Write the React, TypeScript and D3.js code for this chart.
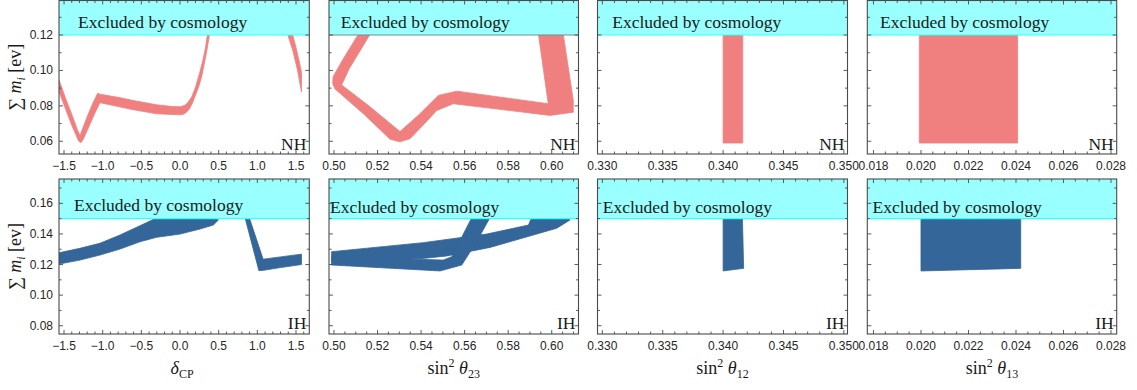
import React from 'react';
import * as d3 from 'd3';

type Pt = [number, number];

// ---------- axes / ticks ----------
const xDomains: [number, number][] = [[-1.565, 1.672], [0.4977, 0.6123], [0.3296, 0.3503], [0.01774, 0.02824]];
const xMajorTicks: number[][] = [
  [-1.5, -1.0, -0.5, 0.0, 0.5, 1.0, 1.5],
  [0.50, 0.52, 0.54, 0.56, 0.58, 0.60],
  [0.330, 0.335, 0.340, 0.345, 0.350],
  [0.018, 0.020, 0.022, 0.024, 0.026, 0.028],
];
const xMinorSteps = [0.1, 0.005, 0.001, 0.0005];
const xTickDecimals = [1, 2, 3, 3];

const nhYDomain: [number, number] = [0.0528, 0.1395];
const ihYDomain: [number, number] = [0.0746, 0.1759];
const nhYTicks = [0.06, 0.08, 0.10, 0.12];
const ihYTicks = [0.08, 0.10, 0.12, 0.14, 0.16];
const yMinorStep = 0.01;
const nhCosmoBound = 0.12;
const ihCosmoBound = 0.15;

// ---------- data regions (polygon outlines) ----------
// NH, delta_CP
const nhDeltaLeft: Pt[] = [
  [-1.565, 0.0947], [-1.48, 0.0843], [-1.40, 0.0752], [-1.33, 0.0668], [-1.294, 0.0632],
  [-1.20, 0.0740], [-1.12, 0.0822], [-1.065, 0.0871], [-1.035, 0.0866], [-0.8, 0.0848],
  [-0.604, 0.0830], [-0.302, 0.0806], [-0.1, 0.0796], [0.0, 0.0795], [0.06, 0.0802],
  [0.10, 0.0818], [0.15, 0.0850], [0.20, 0.0905], [0.25, 0.0980], [0.30, 0.1065],
  [0.33, 0.1130], [0.355, 0.1205], [0.382, 0.1205], [0.35, 0.1120], [0.32, 0.1050],
  [0.28, 0.0965], [0.24, 0.0905], [0.20, 0.0860], [0.16, 0.0815], [0.12, 0.0782],
  [0.08, 0.0762], [0.04, 0.0752], [0.0, 0.0749], [-0.302, 0.0755], [-0.604, 0.0778],
  [-0.8, 0.0796], [-1.035, 0.0818], [-1.10, 0.0760], [-1.18, 0.0680], [-1.25, 0.0612],
  [-1.281, 0.0592], [-1.31, 0.0600], [-1.40, 0.0690], [-1.48, 0.0782], [-1.565, 0.0880],
];
const nhDeltaRight: Pt[] = [
  [1.391, 0.1205], [1.455, 0.1205], [1.50, 0.1130], [1.54, 0.1055], [1.571, 0.0990],
  [1.571, 0.0878], [1.52, 0.1000], [1.46, 0.1110],
];
// NH, sin^2 theta23
const nhT23: Pt[] = [
  [0.5112, 0.1205], [0.5040, 0.1060], [0.4996, 0.0965], [0.4994, 0.0925], [0.5005, 0.0895],
  [0.5140, 0.0750], [0.5257, 0.0612], [0.5303, 0.0597], [0.5349, 0.0614], [0.5420, 0.0705],
  [0.5472, 0.0774], [0.5548, 0.0812], [0.5992, 0.0746], [0.6099, 0.0764], [0.6099, 0.0830],
  [0.6053, 0.1205], [0.5939, 0.1205], [0.5984, 0.0812], [0.5564, 0.0883], [0.5479, 0.0859],
  [0.5390, 0.0750], [0.5303, 0.0655], [0.5160, 0.0800], [0.5035, 0.0918], [0.5070, 0.1010],
  [0.5166, 0.1205],
];
const nhT12: Pt[] = [[0.3400, 0.1205], [0.34163, 0.1205], [0.34163, 0.0590], [0.3400, 0.0590]];
const nhT13: Pt[] = [[0.01993, 0.1205], [0.02407, 0.1205], [0.02407, 0.0590], [0.01993, 0.0590]];

// IH, delta_CP
const ihDeltaLeft: Pt[] = [
  [-1.565, 0.1277], [-1.294, 0.1306], [-1.035, 0.1339], [-0.776, 0.1393], [-0.517, 0.1454],
  [-0.302, 0.1505], [0.474, 0.1505], [0.496, 0.1491], [0.431, 0.1458], [0.259, 0.1432],
  [0.0, 0.1399], [-0.302, 0.1378], [-0.517, 0.1349], [-0.776, 0.1301], [-1.035, 0.1262],
  [-1.294, 0.1229], [-1.565, 0.1203],
];
const ihDeltaRight: Pt[] = [
  [0.841, 0.1505], [0.897, 0.1505], [1.075, 0.1235], [1.30, 0.1250], [1.571, 0.1268],
  [1.571, 0.1200], [1.30, 0.1180], [1.08, 0.1162], [1.02, 0.1160],
];
// IH, sin^2 theta23 (two crossing bands)
const ihT23A: Pt[] = [
  [0.4989, 0.1284], [0.5410, 0.1343], [0.5701, 0.1399], [0.5893, 0.1458], [0.5908, 0.1508],
  [0.6076, 0.1512], [0.6084, 0.1491], [0.6023, 0.1437], [0.5717, 0.1312], [0.5518, 0.1256],
  [0.5410, 0.1240], [0.4989, 0.1218],
];
const ihT23B: Pt[] = [
  [0.4989, 0.1251], [0.5502, 0.1229], [0.5541, 0.1251], [0.5633, 0.1508], [0.5717, 0.1508],
  [0.5655, 0.1349], [0.5587, 0.1197], [0.5487, 0.1158], [0.4989, 0.1197],
];
const ihT12: Pt[] = [[0.3400, 0.1505], [0.3416, 0.1505], [0.3417, 0.1175], [0.3400, 0.1158]];
const ihT13: Pt[] = [[0.0200, 0.1505], [0.0242, 0.1505], [0.0242, 0.1175], [0.0200, 0.1158]];

const nhRegions: Pt[][][] = [[nhDeltaLeft, nhDeltaRight], [nhT23], [nhT12], [nhT13]];
const ihRegions: Pt[][][] = [[ihDeltaLeft, ihDeltaRight], [ihT23A, ihT23B], [ihT12], [ihT13]];

const cosmoLabel = 'Excluded by cosmology';

// ---------- layout & style ----------
const panelLeft = [59, 329, 597.5, 867.3];
const panelRight = [309.3, 578.5, 847.5, 1116.7];
const rowTop = [0.5, 179];
const rowBottom = [154, 334];
const cosmoLabelDx = [[19, 11.7, 14.7, 12.7], [15, 1, 5.3, 5.3]];
const cosmoLabelBaseline = [[28, 28, 28, 28], [211, 213, 213, 213]];
const bandEdge = [['#33ffff', '#6f8f8f', '#33ffff', '#33ffff'], ['#33ffff', '#33ffff', '#33ffff', '#33ffff']];
const NH_COLOR = '#f08080';
const IH_COLOR = '#346699';
const FRAME = '#4a4a4a';
const SANS = '"Liberation Sans", Arial, sans-serif';
const SERIF = '"Liberation Serif", "Times New Roman", serif';

function fmt(v: number, d: number) {
  const s = Math.abs(v).toFixed(d);
  return v < 0 ? '\u2212' + s : s;
}

function minorTicks(domain: [number, number], step: number) {
  const a = Math.ceil(domain[0] / step - 1e-9);
  const b = Math.floor(domain[1] / step + 1e-9);
  return d3.range(a, b + 1).map((i) => i * step);
}

function Panel({ row, col }: { row: number; col: number }) {
  const x = d3.scaleLinear().domain(xDomains[col]).range([panelLeft[col], panelRight[col]]);
  const yDom = row === 0 ? nhYDomain : ihYDomain;
  const y = d3.scaleLinear().domain(yDom).range([rowBottom[row], rowTop[row]]);
  const bound = row === 0 ? nhCosmoBound : ihCosmoBound;
  const regions = row === 0 ? nhRegions[col] : ihRegions[col];
  const color = row === 0 ? NH_COLOR : IH_COLOR;
  const yTicks = row === 0 ? nhYTicks : ihYTicks;
  const line = d3.line<Pt>().x((d) => x(d[0])).y((d) => y(d[1]));
  const x0 = panelLeft[col], x1 = panelRight[col];
  const yt = rowTop[row], yb = rowBottom[row];
  const clipId = `clip-${row}-${col}`;
  const xMinor = minorTicks(xDomains[col], xMinorSteps[col]);
  const yMinor = minorTicks(yDom, yMinorStep);
  const MAJ = 4, MIN = 2.5;
  const isMajorX = (v: number) => xMajorTicks[col].some((m) => Math.abs(m - v) < xMinorSteps[col] * 0.01);
  const isMajorY = (v: number) => yTicks.some((m) => Math.abs(m - v) < 1e-6);
  return (
    <g>
      <defs>
        <clipPath id={clipId}>
          <rect x={x0} y={yt} width={x1 - x0} height={yb - yt} />
        </clipPath>
      </defs>
      <g clipPath={`url(#${clipId})`}>
        {regions.map((poly, i) => (
          <path key={i} d={(line(poly) || '') + 'Z'} fill={color} stroke={color} strokeWidth={0.8} strokeLinejoin="round" />
        ))}
        <rect x={x0} y={yt} width={x1 - x0} height={y(bound) - yt} fill="#99ffff" />
        <line x1={x0} x2={x1} y1={y(bound)} y2={y(bound)} stroke={bandEdge[row][col]} strokeWidth={1.2} />
      </g>
      <text x={x0 + cosmoLabelDx[row][col]} y={cosmoLabelBaseline[row][col]} fontFamily={SERIF} fontSize={17.5} fill="#1a1a1a">
        {cosmoLabel}
      </text>
      <text x={x1 - 3} y={row === 0 ? 149.5 : 328.5} textAnchor="end" fontFamily={SERIF} fontSize={17.5} fill="#1a1a1a">
        {row === 0 ? 'NH' : 'IH'}
      </text>
      <rect x={x0} y={yt} width={x1 - x0} height={yb - yt} fill="none" stroke={FRAME} strokeWidth={1.1} />
      {xMinor.map((v, i) => {
        const len = isMajorX(v) ? MAJ : MIN;
        const px = x(v);
        return (
          <g key={'xt' + i} stroke={FRAME} strokeWidth={0.9}>
            <line x1={px} x2={px} y1={yb} y2={yb - len} />
            <line x1={px} x2={px} y1={yt} y2={yt + len} />
          </g>
        );
      })}
      {xMajorTicks[col].map((v, i) => (
        <text key={'xl' + i} x={x(v)} y={yb + 16} textAnchor="middle" fontFamily={SANS} fontSize={12} fill="#262626">
          {fmt(v, xTickDecimals[col])}
        </text>
      ))}
      {yMinor.map((v, i) => {
        const len = isMajorY(v) ? MAJ : MIN;
        const py = y(v);
        return (
          <g key={'yt' + i} stroke={FRAME} strokeWidth={0.9}>
            <line x1={x0} x2={x0 + len} y1={py} y2={py} />
            <line x1={x1} x2={x1 - len} y1={py} y2={py} />
          </g>
        );
      })}
      {col === 0 &&
        yTicks.map((v, i) => (
          <text key={'yl' + i} x={x0 - 6} y={y(v) + 4} textAnchor="end" fontFamily={SANS} fontSize={12} fill="#262626">
            {v.toFixed(2)}
          </text>
        ))}
    </g>
  );
}

function XTitle({ col }: { col: number }) {
  const cx = (panelLeft[col] + panelRight[col]) / 2;
  const base = 374;
  const common = { fontFamily: SERIF, fontSize: 18, fill: '#1a1a1a', textAnchor: 'middle' as const };
  if (col === 0) {
    return (
      <text x={cx - 2} y={base} {...common}>
        <tspan fontStyle="italic">δ</tspan>
        <tspan fontSize={12} dy={4}>CP</tspan>
      </text>
    );
  }
  const sub = ['', '23', '12', '13'][col];
  return (
    <text x={cx} y={base} {...common}>
      <tspan>sin</tspan>
      <tspan fontSize={12} dy={-7}>2</tspan>
      <tspan dy={7}> </tspan>
      <tspan fontStyle="italic">θ</tspan>
      <tspan fontSize={12} dy={4}>{sub}</tspan>
    </text>
  );
}

function YTitle({ row }: { row: number }) {
  const cy = (rowTop[row] + rowBottom[row]) / 2;
  return (
    <text transform={`translate(21,${cy}) rotate(-90)`} textAnchor="middle" fontFamily={SERIF} fontSize={18} fill="#1a1a1a">
      <tspan>∑ </tspan>
      <tspan fontStyle="italic">m</tspan>
      <tspan fontStyle="italic" fontSize={12} dy={4}>i</tspan>
      <tspan dy={-4}> [ev]</tspan>
    </text>
  );
}

export default function App() {
  return (
    <svg width={1137} height={390} style={{ position: 'absolute', left: 0, top: 0, background: '#fff' }}>
      <rect x={0} y={0} width={1137} height={390} fill="#fff" />
      {[0, 1].map((r) => [0, 1, 2, 3].map((c) => <Panel key={`${r}-${c}`} row={r} col={c} />))}
      {[0, 1, 2, 3].map((c) => <XTitle key={c} col={c} />)}
      {[0, 1].map((r) => <YTitle key={r} row={r} />)}
    </svg>
  );
}
